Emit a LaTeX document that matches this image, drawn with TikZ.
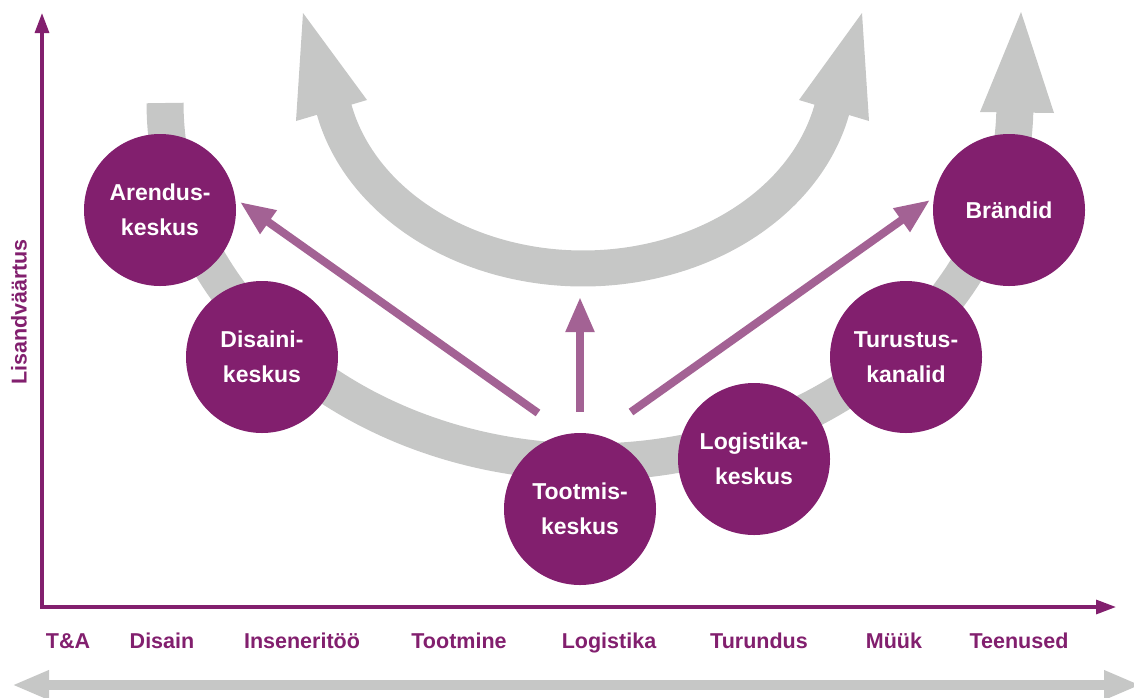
\documentclass[tikz,border=0pt]{standalone}
\usepackage{fontspec}
\setmainfont{Liberation Sans}
\usetikzlibrary{arrows.meta}
\definecolor{plum}{RGB}{130,31,110}
\definecolor{lplum}{RGB}{163,98,148}
\definecolor{bandgray}{RGB}{198,199,198}
\tikzset{
  hub/.style={circle, fill=plum, minimum size=152pt, inner sep=0pt, text=white,
    align=center, font=\fontsize{23}{35}\selectfont\bfseries},
  axlabel/.style={text=plum, anchor=base, inner sep=0pt, font=\fontsize{21.5}{24}\selectfont\bfseries},
  band/.style={draw=bandgray, line cap=butt},
  headfill/.style={fill=bandgray},
  push/.style={draw=lplum, line width=8pt, -{Triangle[length=35pt,width=27pt]}},
  axis/.style={draw=plum, line width=3.2pt, line join=miter}
}
\begin{document}
\begin{tikzpicture}[x=1pt,y=-1pt]
\useasboundingbox (0,0) rectangle (1134,697);
\clip (0,0) rectangle (1134,697);

% main U band
\draw[band, line width=37pt] plot[domain=180:0, samples=150] ({590+425*cos(\x)},{103+359*sin(\x)});
\fill[headfill] (1021,12) -- (980,112) -- (1054,113) -- cycle;

% upper U arrow
\draw[band, line width=36pt] plot[domain=168:12, samples=120] ({583+255*cos(\x)},{65.2+203.3*sin(\x)});
\fill[headfill] (303,13) -- (296,121) -- (367,100) -- cycle;
\fill[headfill] (862,13) -- (799,100) -- (869,121) -- cycle;

% bottom double arrow
\coordinate (bl) at (12,685);
\coordinate (br) at (1141,685);
\draw[draw=bandgray, line width=10pt, {Triangle[length=37pt,width=27pt]}-{Triangle[length=37pt,width=27pt]}] (bl) -- (br);

% axes
\coordinate (ytip) at (42,13);
\coordinate (orig) at (42,607);
\coordinate (xtip) at (1116,607);
\draw[axis, {Triangle[length=20pt,width=14pt]}-{Triangle[length=20pt,width=14pt]}] (ytip) -- (orig) -- (xtip);

\node[axlabel, rotate=90] (ylab) at (26.5,312) {Lisandväärtus};

% purple arrows
\coordinate (t1) at (538,413);
\coordinate (h1) at (240,202);
\coordinate (t2) at (580,412);
\coordinate (h2) at (580,297);
\coordinate (t3) at (631,412);
\coordinate (h3) at (930,200);
\draw[push] (t1) -- (h1);
\draw[push] (t2) -- (h2);
\draw[push] (t3) -- (h3);

% circles
\node[hub] (ar) at (160,210) {Arendus-\\keskus};
\node[hub] (di) at (262,357) {Disaini-\\keskus};
\node[hub] (to) at (580,509) {Tootmis-\\keskus};
\node[hub] (lo) at (754,459) {Logistika-\\keskus};
\node[hub] (tu) at (906,357) {Turustus-\\kanalid};
\node[hub] (bd) at (1009,210) {Brändid};

% x labels
\node[axlabel] (l1) at (68,648) {T\&A};
\node[axlabel] (l2) at (162,648) {Disain};
\node[axlabel] (l3) at (302,648) {Inseneritöö};
\node[axlabel] (l4) at (459,648) {Tootmine};
\node[axlabel] (l5) at (609,648) {Logistika};
\node[axlabel] (l6) at (759,648) {Turundus};
\node[axlabel] (l7) at (894,648) {Müük};
\node[axlabel] (l8) at (1019,648) {Teenused};
\end{tikzpicture}
\end{document}
